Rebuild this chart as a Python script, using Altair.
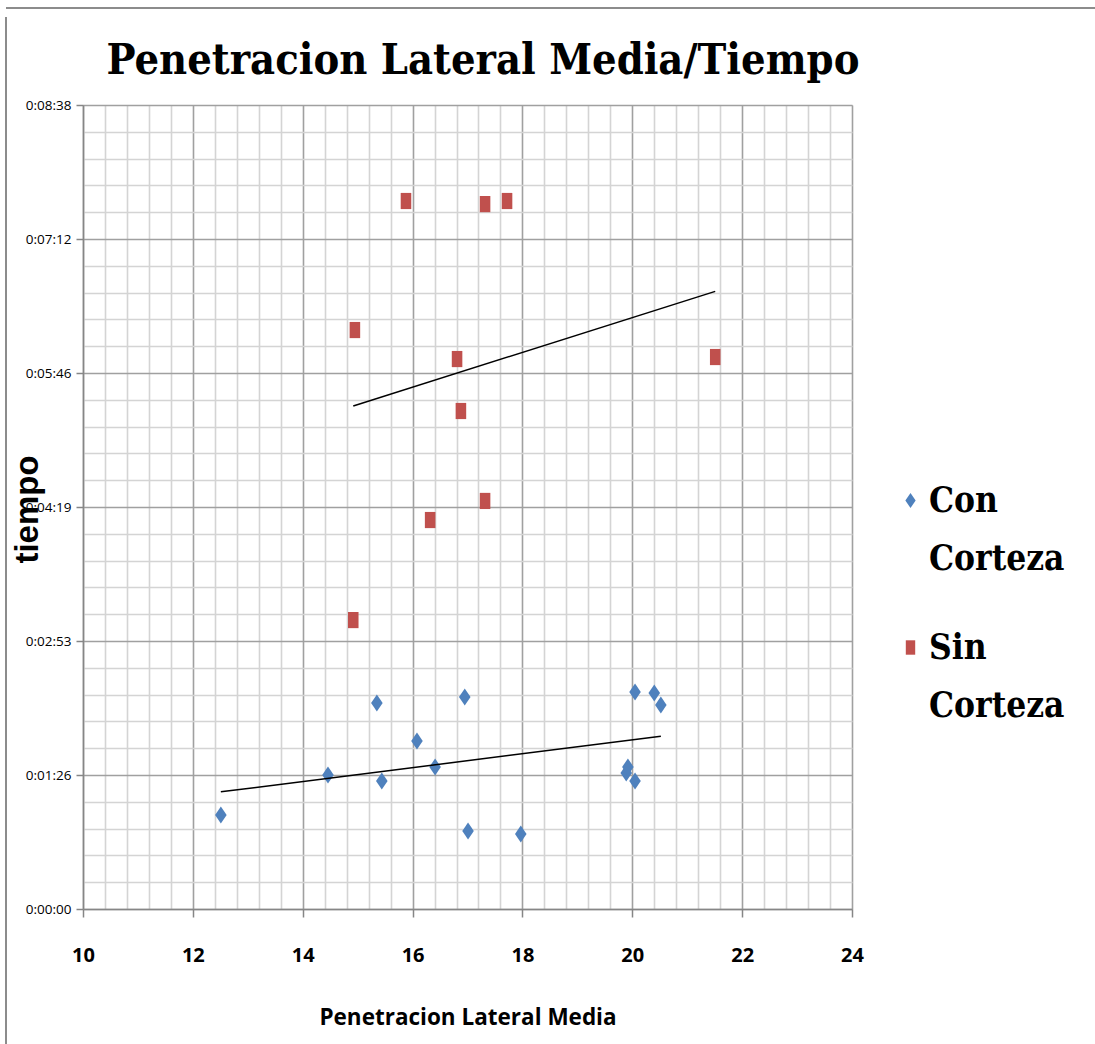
import altair as alt
import pandas as pd

# ---- data ----
series_names = ["Con Corteza", "Sin Corteza"]
con_x = [12.51, 14.46, 15.35, 15.44, 16.08, 16.41, 16.95, 17.01, 17.97, 19.89, 19.92, 20.05, 20.05, 20.40, 20.52]
con_t = [60.6, 86.4, 132.8, 82.5, 108.3, 91.6, 136.7, 50.3, 48.4, 87.7, 91.6, 82.5, 139.9, 139.3, 131.5]
sin_x = [14.92, 14.95, 15.88, 16.32, 16.81, 16.88, 17.32, 17.32, 17.72, 21.51]
sin_t = [186.3, 373.3, 456.5, 250.8, 354.6, 321.1, 454.5, 263.1, 456.5, 355.9]
y_tick_labels = ["0:00:00", "0:01:26", "0:02:53", "0:04:19", "0:05:46", "0:07:12", "0:08:38"]
chart_title = "Penetracion Lateral Media/Tiempo"

df = pd.DataFrame({
    "x": con_x + sin_x,
    "t": con_t + sin_t,
    "serie": [series_names[0]] * len(con_x) + [series_names[1]] * len(sin_x),
})

# ---- axes (major + minor grid) ----
y_step = 86.4
x_minor = [round(10 + 0.4 * i, 1) for i in range(36)]
y_minor = [round(y_step / 5 * i, 2) for i in range(31)]

x_major = "abs(datum.value/2 - round(datum.value/2)) < 0.01"
y_major = f"abs(datum.value/{y_step} - round(datum.value/{y_step})) < 0.01"
y_lab_arr = "[" + ",".join(f"'{s}'" for s in y_tick_labels) + "]"

x_axis = alt.Axis(
    values=x_minor,
    labelExpr=f"{x_major} ? format(datum.value, 'd') : ''",
    gridColor={"condition": {"test": x_major, "value": "#a0a0a0"}, "value": "#d4d4d4"},
    gridWidth=1.6,
    tickColor={"condition": {"test": x_major, "value": "#868686"}, "value": "rgba(0,0,0,0)"},
    tickSize=8, tickWidth=1.5,
    domainColor="#868686", domainWidth=1.5,
    labelFont="Open Sans", labelFontWeight="bold", labelFontSize=20, labelColor="black",
    labelPadding=28, labelFlush=False,
    titleFont="Open Sans", titleFontWeight="bold", titleFontSize=22.5, titleColor="black",
    titlePadding=41,
)
y_axis = alt.Axis(
    values=y_minor,
    labelExpr=f"{y_major} ? {y_lab_arr}[round(datum.value/{y_step})] : ''",
    gridColor={"condition": {"test": y_major, "value": "#a0a0a0"}, "value": "#d4d4d4"},
    gridWidth=1.6,
    tickColor={"condition": {"test": y_major, "value": "#868686"}, "value": "rgba(0,0,0,0)"},
    tickSize=7, tickWidth=1.5,
    domainColor="#868686", domainWidth=1.5,
    labelFont="Open Sans", labelFontSize=13.5, labelColor="black", labelPadding=5,
    labelFlush=False,
    titleFont="Liberation Sans", titleFontWeight="bold", titleFontSize=33, titleColor="black",
    titleX=-56, titleY=404, titleAngle=-90, titleAlign="center", titleBaseline="middle",
)

x_enc = alt.X("x:Q", scale=alt.Scale(domain=[10, 24], nice=False, zero=False),
              axis=x_axis, title="Penetracion Lateral Media")
y_enc = alt.Y("t:Q", scale=alt.Scale(domain=[0, 518.4], nice=False, zero=False),
              axis=y_axis, title="tiempo")

diamond = "M0,-1L0.68,0L0,1L-0.68,0Z"
rect = "M-0.62,-0.95H0.62V0.95H-0.62Z"

points = alt.Chart(df).mark_point(filled=True, opacity=1, size=290).encode(
    x=x_enc,
    y=y_enc,
    color=alt.Color("serie:N", scale=alt.Scale(domain=series_names, range=["#4F81BD", "#C0504D"]),
                    legend=alt.Legend(title=None, orient="none", legendX=810, legendY=378,
                                      labelExpr="split(datum.label, ' ')",
                                      labelFont="DejaVu Serif Condensed", labelFontWeight="bold",
                                      labelFontSize=35, labelColor="black", labelLimit=400,
                                      symbolSize=230, rowPadding=53, labelOffset=1)),
    shape=alt.Shape("serie:N", scale=alt.Scale(domain=series_names, range=[diamond, rect])),
)

trend = alt.Chart(df).transform_regression("x", "t", groupby=["serie"]).mark_line(
    color="black", strokeWidth=1.5
).encode(x=x_enc, y=y_enc, detail="serie:N")

border = alt.Chart(alt.Data(values=[{}])).mark_rule(color="#8c8c8c", strokeWidth=2).encode(
    x=alt.value(-77), y=alt.value(-88), y2=alt.value(940)
)
border_top = alt.Chart(alt.Data(values=[{}])).mark_rule(color="#8c8c8c", strokeWidth=2).encode(
    x=alt.value(-77), x2=alt.value(1012), y=alt.value(-97)
)
title = alt.Chart(alt.Data(values=[{"label": chart_title}])).mark_text(
    font="DejaVu Serif Condensed", fontWeight="bold", fontSize=43, color="black",
    align="center", baseline="alphabetic"
).encode(x=alt.value(400), y=alt.value(-31), text="label:N")

chart = alt.layer(points, trend, border, border_top, title).properties(
    width=769, height=804,
    autosize=alt.AutoSizeParams(type="none"),
    padding={"left": 83, "top": 105, "right": 243, "bottom": 135},
).configure_view(stroke="#868686", strokeWidth=1.5).configure(
    background="white", style={"guide-label": {"lineHeight": 58}}
)

chart.save("out.html", embed_options={"renderer": "svg", "actions": False})
